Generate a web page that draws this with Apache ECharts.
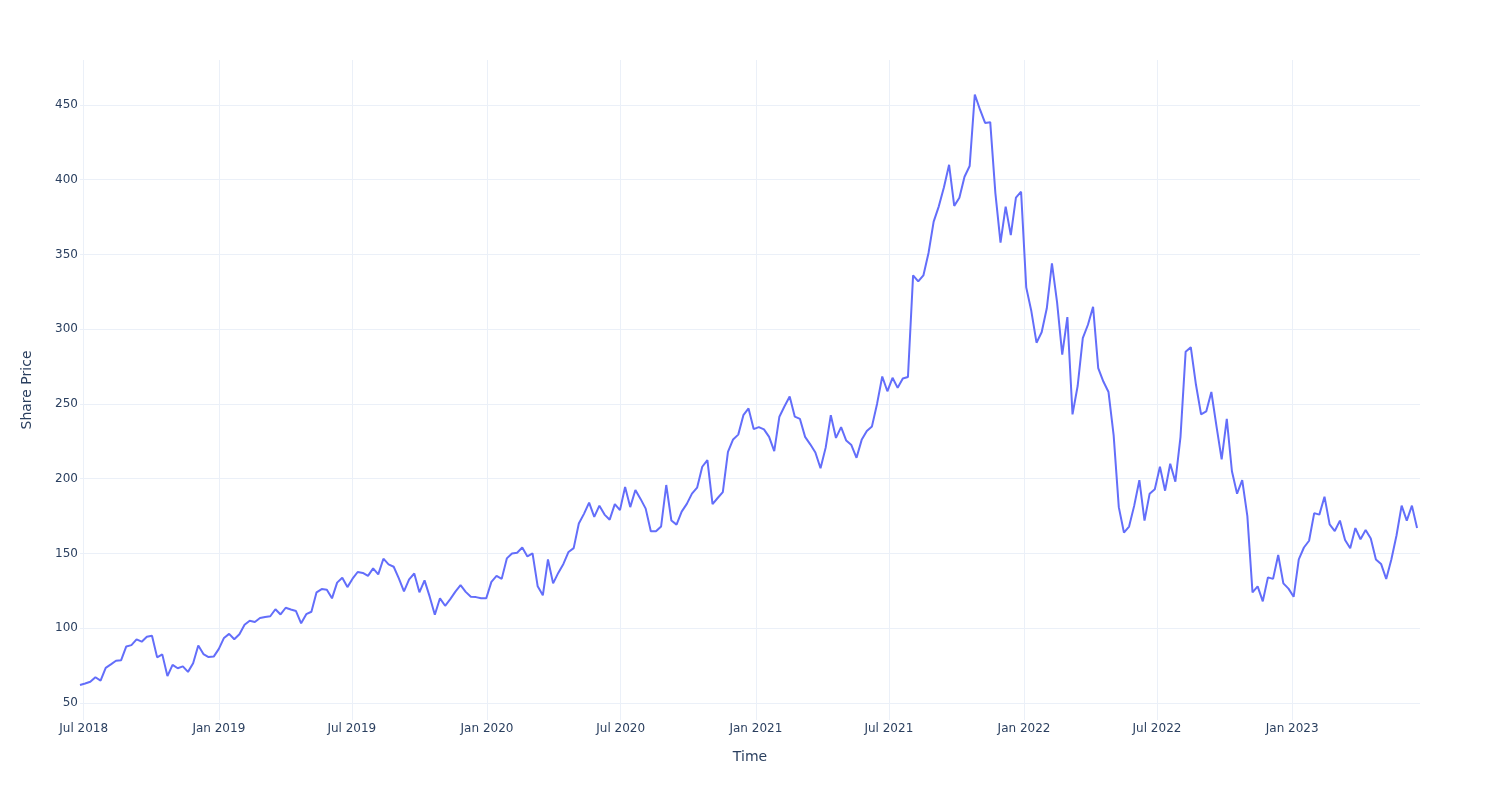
<!DOCTYPE html>
<html><head><meta charset="utf-8">
<script src="https://cdn.jsdelivr.net/npm/echarts@6/dist/echarts.min.js"></script>
<style>html,body{margin:0;padding:0;background:#fff}#c{width:1500px;height:800px}</style>
</head><body><div id="c"></div>
<script>
// Weekly samples of the share price
const startDate = '2018-06-26';
const stepDays = 7;
const price2018 = [62, 63, 64.2, 67.2, 65, 73.5, 75.8, 78.2, 78.6, 87.8,
  88.7, 92.5, 91, 94.3, 95, 80.5, 82.5, 68, 75.5, 73.2,
  74.5, 70.8, 76.5, 88.5, 82.7, 80.7, 81];
const price2019 = [86.2, 93.5, 96.2, 92.6, 96, 102.3, 105, 104.2, 106.8, 107.5,
  108, 112.7, 109.2, 113.7, 112.5, 111.5, 103.3, 109.4, 111, 124,
  126.2, 125.8, 120, 130.5, 133.8, 127.5, 133.1, 137.6, 137, 135,
  140, 136, 146.5, 142.7, 141.1, 133.4, 124.6, 132.7, 136.6, 124,
  132, 121.1, 109, 120, 115, 119.5, 124.5, 128.8, 124.3, 121,
  120.8, 120];
const price2020 = [120, 131, 135, 133, 146.7, 150, 150.5, 154, 148,
  150, 128, 122, 146, 130, 137, 143, 151, 153.6, 170,
  176.5, 184, 174.5, 182, 176, 172.6, 183, 179, 194.5, 181,
  192.5, 186.5, 180, 164.8, 164.8, 168.1, 195.8, 172, 169.3, 178,
  183.2, 190, 194, 208, 212.5, 183, 187.1, 191, 218, 226.3,
  229.5, 242.5];
const price2021 = [247, 233.2, 234.5, 233, 228, 218.5, 241.5, 248.5, 255, 241.5,
  240, 228, 223, 217.5, 207, 220.8, 242.5, 227.3, 234.5, 225.5,
  222.5, 214, 226, 232, 235, 250.2, 268.4, 258.5, 267.5, 260.8,
  267, 268, 336, 332, 336, 351, 372, 382.2, 395, 410,
  382.5, 388, 402, 409.2, 457, 447, 438, 438.5, 391, 358,
  382, 363, 388, 392];
const price2022 = [328, 312, 291, 298, 314, 344, 318, 283, 308.1, 243,
  262, 294, 303, 315, 274, 265, 258, 229, 181, 164,
  168, 182, 199, 172, 190, 193, 208, 192, 210, 198,
  228, 285, 288, 263, 243, 245, 258, 235, 213, 240,
  205, 190, 199, 175, 124, 128, 118, 134, 133, 149,
  130, 126.5];
const price2023 = [121, 146, 154, 158.5, 177, 176, 188, 169.5, 165, 172,
  159, 153.5, 167, 159.5, 165.7, 160, 146, 143, 133, 146,
  162, 182, 172, 182, 167];

const xTickDates = ['2018-07-01', '2019-01-01', '2019-07-01', '2020-01-01', '2020-07-01',
  '2021-01-01', '2021-07-01', '2022-01-01', '2022-07-01', '2023-01-01'];
const xTickLabels = ['Jul 2018', 'Jan 2019', 'Jul 2019', 'Jan 2020', 'Jul 2020',
  'Jan 2021', 'Jul 2021', 'Jan 2022', 'Jul 2022', 'Jan 2023'];
const yTicks = [50, 100, 150, 200, 250, 300, 350, 400, 450];
const xRange = ['2018-06-26', '2023-06-24'];
const yRange = [38.6, 480.1];

const toTs = s => { const p = s.split('-').map(Number); return Date.UTC(p[0], p[1] - 1, p[2]); };
const prices = [].concat(price2018, price2019, price2020, price2021, price2022, price2023);
const t0 = toTs(startDate);
const data = prices.map((v, i) => [t0 + i * stepDays * 86400000, v]);
const xTickTs = xTickDates.map(toTs);

const FONT = 'DejaVu Sans';
const TXT = '#2a3f5f';
const GRID = '#EBF0F8';

const chart = echarts.init(document.getElementById('c'), null, {renderer: 'canvas'});
chart.setOption({
  animation: false,
  backgroundColor: '#ffffff',
  grid: {left: 80, right: 80, top: 60, bottom: 80, containLabel: false},
  xAxis: {
    type: 'value',
    min: toTs(xRange[0]), max: toTs(xRange[1]),
    name: 'Time', nameLocation: 'middle', nameGap: 30,
    nameTextStyle: {color: TXT, fontSize: 14, fontFamily: FONT},
    axisLine: {show: false},
    axisTick: {show: false, customValues: xTickTs},
    axisLabel: {
      customValues: xTickTs, color: TXT, fontSize: 12, fontFamily: FONT, margin: 3,
      formatter: v => { const i = xTickTs.indexOf(v); return i >= 0 ? xTickLabels[i] : ''; }
    },
    splitLine: {show: true, customValues: xTickTs, lineStyle: {color: GRID, width: 1}}
  },
  yAxis: {
    type: 'value',
    min: yRange[0], max: yRange[1],
    name: 'Share Price', nameLocation: 'middle', nameGap: 46, nameRotate: 90,
    nameTextStyle: {color: TXT, fontSize: 14, fontFamily: FONT},
    axisLine: {show: false},
    axisTick: {show: false, customValues: yTicks},
    axisLabel: {customValues: yTicks, color: TXT, fontSize: 12, fontFamily: FONT, margin: 2},
    splitLine: {show: true, customValues: yTicks, lineStyle: {color: GRID, width: 1}}
  },
  series: [{
    type: 'line',
    data: data,
    showSymbol: false,
    lineStyle: {color: '#636efa', width: 2},
    itemStyle: {color: '#636efa'}
  }]
});
</script>
</body></html>
